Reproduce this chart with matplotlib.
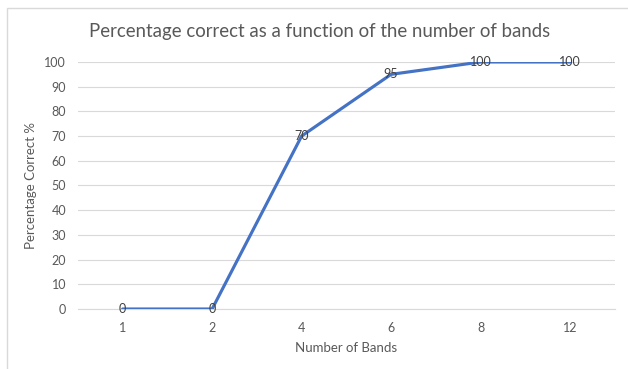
import matplotlib.pyplot as plt
from matplotlib.patches import Rectangle

bands = ["1", "2", "4", "6", "8", "12"]
pct_correct = [0, 0, 70, 95, 100, 100]
y_ticks = [0, 10, 20, 30, 40, 50, 60, 70, 80, 90, 100]

text_gray = "#595959"
line_blue = "#4472C4"

plt.rcParams["font.family"] = ["Lato", "DejaVu Sans"]

fig = plt.figure(figsize=(6.28, 3.69), dpi=100)
ax = fig.add_axes([0.124, 0.1626, 0.855, 0.6694])

# chart area outline (left and top edges)
fig.patches.append(Rectangle((7 / 628, -0.1), 1.2, 1 - 8 / 369 + 0.1,
                             transform=fig.transFigure, fill=False,
                             edgecolor="#d9d9d9", linewidth=1))

x = list(range(len(bands)))
ax.plot(x, pct_correct, color=line_blue, linewidth=2.25, solid_capstyle="round", zorder=3)
for xi, v in zip(x, pct_correct):
    ax.text(xi, v, str(v), ha="center", va="center", fontsize=9, color="#404040", zorder=4)

ax.set_xlim(-0.5, len(bands) - 0.5)
ax.set_ylim(0, 100)
ax.set_xticks(x)
ax.set_xticklabels(bands)
ax.set_yticks(y_ticks)
ax.grid(axis="y", color="#d9d9d9", linewidth=0.8)
ax.set_axisbelow(True)
ax.tick_params(length=0, labelsize=9, labelcolor=text_gray)
ax.tick_params(axis="y", pad=8.5)
ax.tick_params(axis="x", pad=9)
for s in ax.spines.values():
    s.set_visible(False)
ax.spines["bottom"].set_visible(True)
ax.spines["bottom"].set_color("#d9d9d9")
ax.spines["bottom"].set_linewidth(0.8)

ax.set_xlabel("Number of Bands", fontsize=9.5, color=text_gray, labelpad=6)
ax.set_ylabel("Percentage Correct %", fontsize=9.5, color=text_gray, labelpad=5)
fig.text(319.5 / 628, 1 - 32 / 369, "Percentage correct as a function of the number of bands",
         ha="center", va="center", fontsize=13.4, color=text_gray)

fig.savefig("out.png", dpi=100, facecolor="white")
